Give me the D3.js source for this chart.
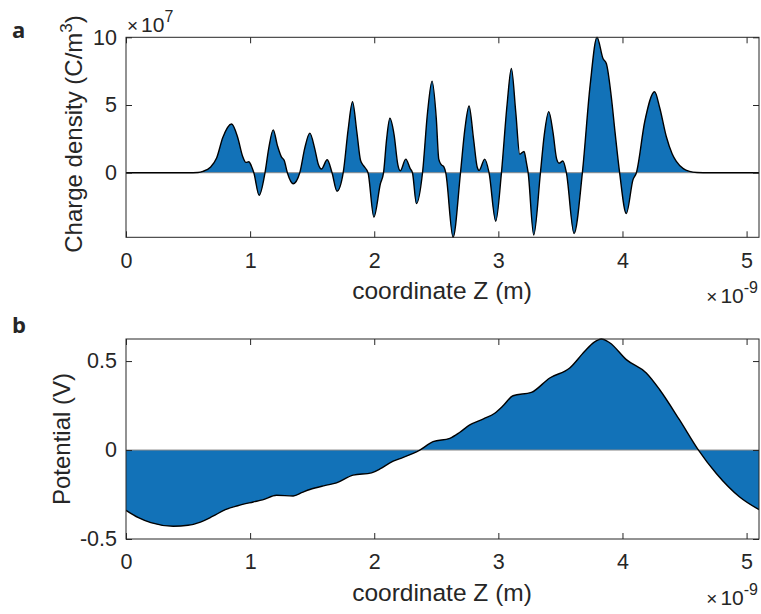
<!DOCTYPE html>
<html>
<head>
<meta charset="utf-8">
<script src="https://cdn.jsdelivr.net/npm/d3@7"></script>
<style>
  body { margin: 0; background: #fff; }
  svg { display: block; }
  text { font-family: "Liberation Sans", Arial, Helvetica, sans-serif; fill: #262626; }
</style>
</head>
<body>
<svg id="chart" width="761" height="614"></svg>
<script>
// ---- Data ----
// Panel a: charge density (units of 1e7 C/m^3) vs coordinate Z (units of 1e-9 m)
const densityZ = [0, 0.5, 0.58, 0.62, 0.68, 0.73, 0.78, 0.851, 0.9, 0.94, 0.966, 0.99, 1.01, 1.03, 1.073, 1.12,
  1.15, 1.186, 1.22, 1.253, 1.275, 1.30, 1.347, 1.40, 1.44, 1.481, 1.52, 1.55, 1.575, 1.621, 1.66, 1.70, 1.75,
  1.79, 1.825, 1.86, 1.89, 1.915, 1.95, 1.997, 2.05, 2.075, 2.10, 2.126, 2.16, 2.19, 2.21, 2.254, 2.29, 2.308,
  2.34, 2.389, 2.43, 2.466, 2.50, 2.52, 2.54, 2.56, 2.576, 2.635, 2.695, 2.73, 2.764, 2.80, 2.83, 2.845, 2.89,
  2.925, 2.979, 3.025, 3.07, 3.105, 3.14, 3.172, 3.207, 3.225, 3.24, 3.285, 3.339, 3.37, 3.406, 3.44, 3.47,
  3.489, 3.52, 3.548, 3.61, 3.677, 3.74, 3.795, 3.843, 3.87, 3.91, 3.94, 3.977, 4.031, 4.085, 4.112, 4.18,
  4.259, 4.30, 4.353, 4.40, 4.434, 4.49, 4.54, 4.6, 4.7, 5.1];
const densityVal = [0, 0, 0.02, 0.1, 0.4, 1.08, 2.6, 3.6, 2.6, 1.2, 0.76, 0.81, 0.5, 0, -1.67, 0,
  1.8, 3.16, 2.0, 1.15, 0.9, 0, -0.81, 0, 1.8, 2.92, 1.8, 0.6, 0.27, 0.96, 0, -1.37, 0,
  3.2, 5.24, 3.0, 0.9, 0.5, 0, -3.28, -0.8, 0, 2.5, 4.02, 2.8, 0.6, 0.15, 1.0, 0.3, 0,
  -2.28, 0, 4.5, 6.76, 4.0, 1.0, 0.59, 0.45, 0, -4.77, 0, 3.2, 4.93, 2.5, 0.4, 0.17, 1.0,
  0, -3.58, 0, 5.0, 7.7, 4.5, 1.37, 1.57, 0.8, 0, -4.6, 0, 2.8, 4.51, 3.0, 1.0,
  0.71, 0.86, 0, -4.49, 0, 6.5, 10, 8.43, 8.06, 5.6, 3.0, 0, -3.01, -0.51, 0, 3.8,
  5.98, 4.8, 2.67, 1.4, 0.83, 0.3, 0.1, 0.02, 0, 0];

// Panel b: potential (V) vs coordinate Z (units of 1e-9 m)
const potentialZ = [0, 0.1, 0.2, 0.381, 0.5, 0.6, 0.7, 0.8, 0.9, 1.025, 1.1, 1.213, 1.347, 1.42, 1.481,
  1.6, 1.696, 1.83, 1.978, 2.05, 2.126, 2.22, 2.313, 2.367, 2.474, 2.609, 2.69, 2.77, 2.88, 2.971, 3.04,
  3.118, 3.266, 3.414, 3.575, 3.696, 3.77, 3.83, 3.897, 4.031, 4.192, 4.3, 4.46, 4.608, 4.756, 4.944, 5.1];
const potentialVal = [-0.339, -0.38, -0.408, -0.428, -0.423, -0.405, -0.372, -0.335, -0.313, -0.292, -0.28, -0.254,
  -0.258, -0.238, -0.222, -0.2, -0.185, -0.141, -0.128, -0.105, -0.072, -0.045, -0.019, 0, 0.047, 0.066, 0.1,
  0.141, 0.175, 0.207, 0.25, 0.305, 0.324, 0.405, 0.461, 0.555, 0.605, 0.624, 0.603, 0.508, 0.433, 0.339,
  0.169, 0.004, -0.132, -0.264, -0.335];

const xTicks = [0, 1, 2, 3, 4, 5];
const xTickLabels = ["0", "1", "2", "3", "4", "5"];
const aYTicks = [0, 5, 10];
const aYTickLabels = ["0", "5", "10"];
const bYTicks = [-0.5, 0, 0.5];
const bYTickLabels = ["-0.5", "0", "0.5"];
const xDomain = [0, 5.1];
const aYDomain = [-4.77, 10];
const bYDomain = [-0.5, 0.624];

// ---- Drawing ----
const svg = d3.select("#chart");
const FILL = "#1272b8";
const AX = "#262626";

function exponent(sel, x, y, anchor, exp) {
  const t = sel.append("text").attr("x", x).attr("y", y).attr("text-anchor", anchor).style("font-size", "21px");
  t.append("tspan").style("font-size", "19px").text("\u00d7");
  t.append("tspan").attr("dx", 3).text("10");
  t.append("tspan").attr("dy", -10).style("font-size", "16px").text(exp);
  return t;
}

function panel(opts) {
  const { left, right, top, bottom, zs, vs, yDomain, yTicks, yTickLabels } = opts;
  const x = d3.scaleLinear().domain(xDomain).range([left, right]);
  const y = d3.scaleLinear().domain(yDomain).range([bottom, top]);
  const g = svg.append("g");
  const data = zs.map((z, i) => [z, vs[i]]);

  const clipId = "clip" + Math.round(top);
  svg.append("clipPath").attr("id", clipId)
    .append("rect").attr("x", left).attr("y", top - 1).attr("width", right - left).attr("height", bottom - top + 2);

  const area = d3.area().x(d => x(d[0])).y0(y(0)).y1(d => y(d[1])).curve(d3.curveMonotoneX);
  const line = d3.line().x(d => x(d[0])).y(d => y(d[1])).curve(d3.curveMonotoneX);

  const pg = g.append("g").attr("clip-path", `url(#${clipId})`);
  pg.append("path").datum(data).attr("d", area).attr("fill", FILL).attr("stroke", "none");
  pg.append("line").attr("x1", left).attr("x2", right).attr("y1", y(0)).attr("y2", y(0))
    .attr("stroke", "#8c8c8c").attr("stroke-width", 1);
  pg.append("path").datum(data).attr("d", line).attr("fill", "none")
    .attr("stroke", "#000").attr("stroke-width", 1.4);

  // axes (ticks inward, mirrored)
  const tickLen = 6;
  const styleAxis = sel => {
    sel.select(".domain").remove();
    sel.selectAll(".tick line").attr("stroke", AX);
    sel.selectAll(".tick text").style("font-size", "21.5px").attr("fill", AX);
  };
  g.append("g").attr("transform", `translate(0,${bottom})`)
    .call(d3.axisBottom(x).tickValues(xTicks).tickFormat((d, i) => xTickLabels[i])
      .tickSizeInner(-tickLen).tickSizeOuter(0).tickPadding(15)).call(styleAxis);
  g.append("g").attr("transform", `translate(0,${top})`)
    .call(d3.axisTop(x).tickValues(xTicks).tickFormat("").tickSizeInner(-tickLen).tickSizeOuter(0)).call(styleAxis);
  g.append("g").attr("transform", `translate(${left},0)`)
    .call(d3.axisLeft(y).tickValues(yTicks).tickFormat((d, i) => yTickLabels[i])
      .tickSizeInner(-tickLen).tickSizeOuter(0).tickPadding(9)).call(styleAxis);
  g.append("g").attr("transform", `translate(${right},0)`)
    .call(d3.axisRight(y).tickValues(yTicks).tickFormat("").tickSizeInner(-tickLen).tickSizeOuter(0)).call(styleAxis);

  g.append("rect").attr("x", left).attr("y", top).attr("width", right - left).attr("height", bottom - top)
    .attr("fill", "none").attr("stroke", AX).attr("stroke-width", 1);

  // x label
  g.append("text").attr("x", 442).attr("y", bottom + 62).attr("text-anchor", "middle")
    .style("font-size", "24.5px").text("coordinate Z (m)");
  // x exponent
  exponent(g, 758, bottom + 66, "end", "-9");
  return { x, y, g };
}

const A = panel({ left: 126, right: 759, top: 37.3, bottom: 237.3, zs: densityZ, vs: densityVal,
  yDomain: aYDomain, yTicks: aYTicks, yTickLabels: aYTickLabels });
const B = panel({ left: 126, right: 759, top: 339, bottom: 539, zs: potentialZ, vs: potentialVal,
  yDomain: bYDomain, yTicks: bYTicks, yTickLabels: bYTickLabels });

// y labels
const yl = svg.append("text").attr("transform", "translate(82,134) rotate(-90)")
  .attr("text-anchor", "middle").style("font-size", "24px");
yl.append("tspan").text("Charge density (C/m");
yl.append("tspan").attr("dy", -10).style("font-size", "17px").text("3");
yl.append("tspan").attr("dy", 10).text(")");

svg.append("text").attr("transform", "translate(70,439) rotate(-90)")
  .attr("text-anchor", "middle").style("font-size", "24px").text("Potential (V)");

// y exponent panel a
exponent(svg, 127, 31.5, "start", "7");

// panel letters
svg.append("text").attr("x", 12).attr("y", 38).style("font-size", "22px").style("font-weight", "bold")
  .style("font-family", "'Open Sans', 'Liberation Sans', sans-serif").attr("fill", "#000").text("a");
svg.append("text").attr("x", 12).attr("y", 333).style("font-size", "22px").style("font-weight", "bold")
  .style("font-family", "'Open Sans', 'Liberation Sans', sans-serif").attr("fill", "#000").text("b");
</script>
</body>
</html>
